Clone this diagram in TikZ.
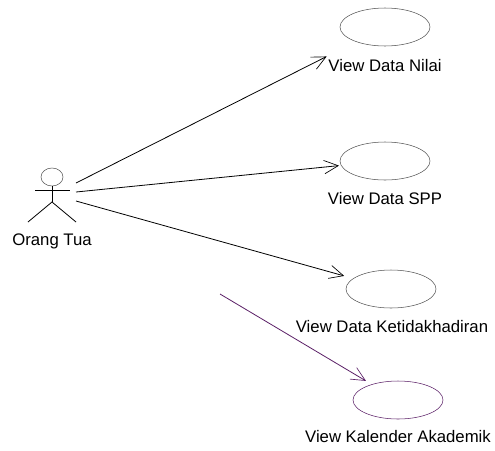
\documentclass[tikz,border=0pt]{standalone}
\usepackage{fontspec}
\setmainfont{Liberation Sans}
\usetikzlibrary{arrows.meta,shapes.geometric}
\definecolor{umlpurple}{HTML}{5A1F66}
\definecolor{umlgray}{HTML}{555555}
\tikzset{
  x=0.75pt,y=-0.75pt,
  usecase/.style={draw=umlgray,shape=ellipse,minimum width=67.5pt,minimum height=28.5pt,inner sep=0pt,line width=0.4pt},
  ptext/.style={font=\fontsize{12.55}{15}\selectfont,text=black,inner sep=0pt},
  assoc/.style={draw=black,line width=0.6pt,-{Straight Barb[length=10.5pt,width=10pt,line width=0.5pt]}},
  limb/.style={draw=black,line width=0.6pt},
}
\begin{document}
\begin{tikzpicture}
\useasboundingbox (0,0) rectangle (495,450);
% use cases
\node[usecase] (e1) at (385,27) {};
\node[usecase] (e2) at (385,161) {};
\node[usecase] (e3) at (391,289) {};
\node[usecase,draw=umlpurple] (e4) at (398,400) {};
% labels
\node[ptext] (l1) at (385,66) {View Data Nilai};
\node[ptext] (l2) at (385,199) {View Data SPP};
\node[ptext] (l3) at (392,327) {View Data Ketidakhadiran};
\node[ptext] (l4) at (398,437) {View Kalender Akademik};
\node[ptext] (l0) at (52,241) {Orang Tua};
% actor
\node[draw=umlgray,shape=ellipse,minimum width=16.5pt,minimum height=13.5pt,inner sep=0pt,line width=0.4pt] (head) at (52,177) {};
\coordinate (armL) at (35,190);
\coordinate (armR) at (70,190);
\coordinate (hip) at (52,202);
\coordinate (footL) at (28,222);
\coordinate (footR) at (76,222);
\draw[limb] (armL) -- (armR);
\draw[limb] (head) -- (hip);
\draw[limb] (footL) -- (hip) -- (footR);
% connectors
\coordinate (a1) at (76,183);
\coordinate (a2) at (76,192);
\coordinate (a3) at (76,201);
\coordinate (a4) at (220,294);
\draw[assoc,shorten >=24.5pt] (a1) -- (e1);
\draw[assoc,shorten >=1.5pt] (a2) -- (e2);
\draw[assoc,shorten >=7pt] (a3) -- (e3);
\draw[assoc,draw=umlpurple,shorten >=5pt] (a4) -- (e4);
\end{tikzpicture}
\end{document}
